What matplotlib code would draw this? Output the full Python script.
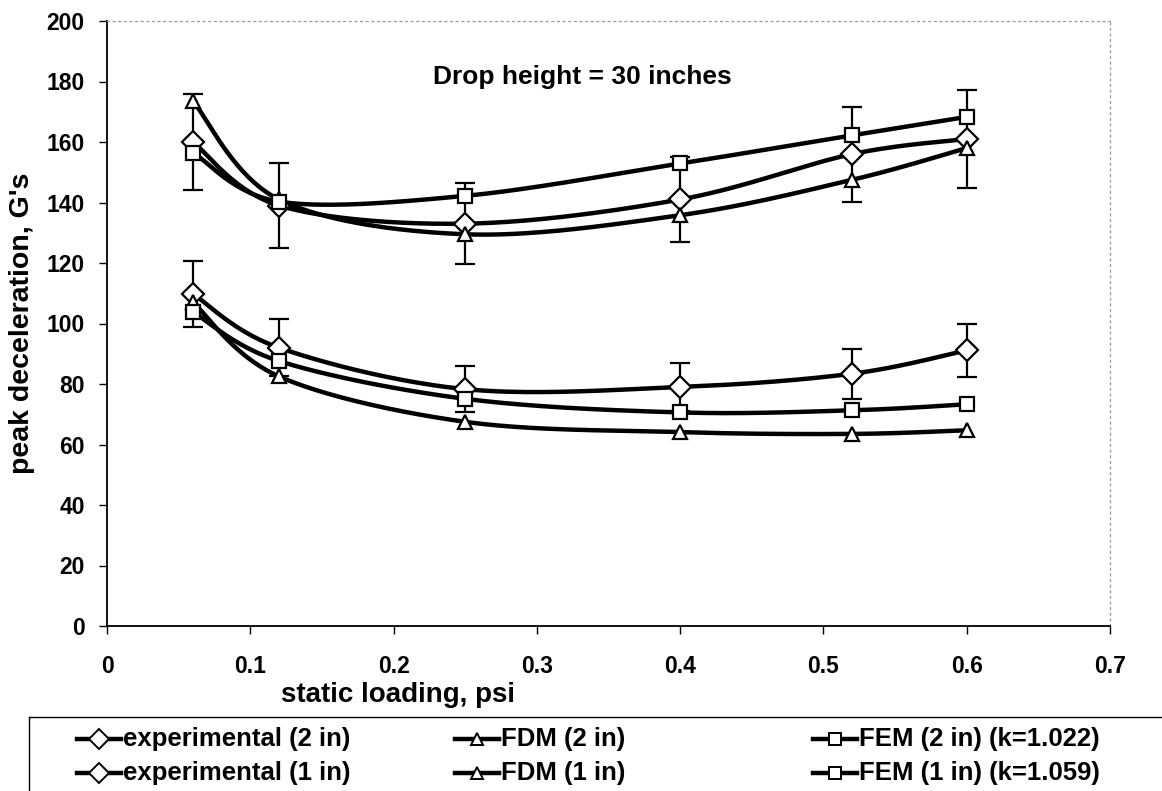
import numpy as np
import matplotlib
matplotlib.use("Agg")
import matplotlib.pyplot as plt
from matplotlib.lines import Line2D

plt.rcParams['font.family'] = ['Liberation Sans', 'DejaVu Sans']
plt.rcParams['font.weight'] = 'bold'

# static loading (psi)
loading = [0.06, 0.12, 0.25, 0.40, 0.52, 0.60]

# 2 inch cushion
exp_2in = [160, 139, 133, 141, 156, 161]
exp_2in_err = [16, 14, 13.3, 14, 15.7, 16.2]
fdm_2in = [173.5, 141, 129.5, 135.8, 147.5, 158]
fem_2in = [156.5, 140.3, 142.2, 152.9, 162.2, 168.3]

# 1 inch cushion
exp_1in = [109.8, 92, 78.3, 79, 83.4, 91.1]
exp_1in_err = [11, 9.5, 7.5, 8, 8.3, 8.8]
fdm_1in = [107, 82.5, 67.5, 64.1, 63.5, 64.7]
fem_1in = [103.8, 87.6, 75.1, 70.6, 71.3, 73.3]

series = [
    ("experimental (2 in)", exp_2in, "D"),
    ("FDM (2 in)", fdm_2in, "^"),
    ("FEM (2 in) (k=1.022)", fem_2in, "s"),
    ("experimental (1 in)", exp_1in, "D"),
    ("FDM (1 in)", fdm_1in, "^"),
    ("FEM (1 in) (k=1.059)", fem_1in, "s"),
]
marker_size = {"D": 11.5, "^": 10, "s": 9.5}

xticks = [0, 0.1, 0.2, 0.3, 0.4, 0.5, 0.6, 0.7]
xtick_labels = ["0", "0.1", "0.2", "0.3", "0.4", "0.5", "0.6", "0.7"]
yticks = list(range(0, 201, 20))


def smooth_curve(xs, ys, n=40):
    """Cubic Bezier smoothing through every point (spreadsheet-style)."""
    pts = np.column_stack([xs, ys]).astype(float)
    P = np.vstack([pts[0], pts, pts[-1]])
    segs = []
    t = np.linspace(0, 1, n)[:, None]
    for i in range(1, len(P) - 2):
        p0, p1, p2, p3 = P[i - 1], P[i], P[i + 1], P[i + 2]
        c1 = p1 + (p2 - p0) / 6.0
        c2 = p2 - (p3 - p1) / 6.0
        b = ((1 - t) ** 3) * p1 + 3 * ((1 - t) ** 2) * t * c1 \
            + 3 * (1 - t) * t ** 2 * c2 + t ** 3 * p2
        segs.append(b if i == 1 else b[1:])
    out = np.vstack(segs)
    return out[:, 0], out[:, 1]


W, H = 1162, 791
fig = plt.figure(figsize=(W / 100, H / 100), dpi=100)
ax = fig.add_axes([107 / W, 1 - 626 / H, (1110 - 107) / W, (626 - 21) / H])

# error bars for the measured series
for vals, err in [(exp_2in, exp_2in_err), (exp_1in, exp_1in_err)]:
    ax.errorbar(loading, vals, yerr=err, fmt="none", ecolor="black",
                elinewidth=1.6, capsize=7, capthick=1.6, zorder=2)

for label, vals, mk in series:
    sx, sy = smooth_curve(loading, vals)
    ax.plot(sx, sy, color="black", lw=3.2, solid_capstyle="round", zorder=3)
    ax.plot(loading, vals, linestyle="none", marker=mk,
            markersize=marker_size[mk], markerfacecolor="white",
            markeredgecolor="black", markeredgewidth=1.6, zorder=4)

ax.set_xlim(0, 0.7)
ax.set_ylim(0, 200)
ax.set_xticks(xticks)
ax.set_xticklabels(xtick_labels)
ax.set_yticks(yticks)
ax.tick_params(axis="y", direction="out", length=6, width=1, pad=10,
               labelsize=16.5)
ax.tick_params(axis="x", direction="out", length=6, width=1, pad=15,
               labelsize=16.5)
for lab in ax.get_xticklabels() + ax.get_yticklabels():
    lab.set_fontweight("bold")

ax.spines["left"].set_linewidth(1.3)
ax.spines["bottom"].set_linewidth(1.3)
for side in ("top", "right"):
    ax.spines[side].set_color("#9a9a9a")
    ax.spines[side].set_linewidth(0.9)
    ax.spines[side].set_linestyle((0, (1.5, 3)))

fig.text(582 / W, 1 - 77 / H, "Drop height = 30 inches",
         ha="center", va="center", fontsize=19, fontweight="bold")

fig.text(22 / W, 1 - 323 / H, "peak deceleration, G's", rotation=90,
         ha="center", va="center", fontsize=20.5, fontweight="bold")
fig.text(398 / W, 1 - 695 / H, "static loading, psi",
         ha="center", va="center", fontsize=20, fontweight="bold")

# legend frame (open on the right and bottom)
fig.add_artist(Line2D([29 / W, 29 / W], [1 - 717 / H, 0], color="black",
                      lw=1, transform=fig.transFigure))
fig.add_artist(Line2D([29 / W, 1], [1 - 717 / H, 1 - 717 / H],
                      color="black", lw=1, transform=fig.transFigure))

col_x = [77, 455, 813]
row_y = [739, 773]
for idx, (label, vals, mk) in enumerate(series):
    row, col = divmod(idx, 3)
    x0 = col_x[col]
    y = 1 - row_y[row] / H
    fig.add_artist(Line2D([x0 / W, (x0 + 44) / W], [y, y], color="black",
                          lw=3.2, transform=fig.transFigure))
    fig.add_artist(Line2D([(x0 + 22) / W], [y], linestyle="none", marker=mk,
                          markersize=marker_size[mk] * 0.85,
                          markerfacecolor="white", markeredgecolor="black",
                          markeredgewidth=1.4, transform=fig.transFigure))
    fig.text((x0 + 46) / W, y, label, ha="left", va="center",
             fontsize=18.5, fontweight="bold")

fig.savefig("out.png", dpi=100)
